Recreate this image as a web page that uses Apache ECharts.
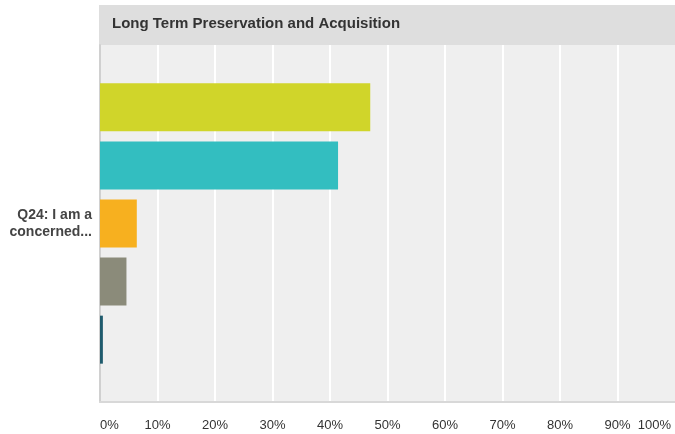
<!DOCTYPE html>
<html>
<head>
<meta charset="UTF-8">
<title>Long Term Preservation and Acquisition</title>
<script src="https://cdn.jsdelivr.net/npm/echarts@6/dist/echarts.min.js"></script>
<style>
  body { margin: 0; background: #fff; }
  #main { width: 675px; height: 434px; }
</style>
</head>
<body>
<div id="main"></div>
<script type="text/javascript">
    // data
    var categories = ['Q24: I am a\nconcerned...'];
    var answerNames = ['Strongly agree', 'Agree', 'Neither agree nor disagree', 'Disagree', 'Strongly disagree'];
    var answerValues = [47.0, 41.4, 6.4, 4.6, 0.5];
    var answerColors = ['#d0d52a', '#33bec0', '#f7b01f', '#8b8b7a', '#1f5b6d'];
    var xTicks = [0, 10, 20, 30, 40, 50, 60, 70, 80, 90, 100];

    var chart = echarts.init(document.getElementById('main'));

    var series = [];
    for (var i = 0; i < answerValues.length; i++) {
        series.push({
            name: answerNames[i],
            type: 'bar',
            barWidth: 48,
            barGap: '21%',
            itemStyle: { color: answerColors[i] },
            data: [answerValues[i]]
        });
    }

    var option = {
        animation: false,
        textStyle: { fontFamily: 'Liberation Sans, Arial, sans-serif' },
        graphic: [
            {
                type: 'rect',
                shape: { x: 99, y: 5, width: 576, height: 40 },
                style: { fill: '#dedede' },
                z: -1
            },
            {
                type: 'text',
                left: 112,
                top: 16,
                style: {
                    text: 'Long Term Preservation and Acquisition',
                    font: 'bold 15px Liberation Sans, Arial, sans-serif',
                    fill: '#333333'
                }
            }
        ],
        grid: {
            left: 100, right: -3, top: 45, bottom: 32,
            show: true,
            backgroundColor: '#efefef',
            borderWidth: 0
        },
        xAxis: {
            type: 'value',
            min: 0, max: 100, interval: 10,
            axisLine: { show: true, lineStyle: { color: '#d8d8d8', width: 2 } },
            axisTick: { show: false },
            splitLine: { show: true, showMaxLine: false, lineStyle: { color: '#ffffff', width: 2 } },
            axisLabel: {
                margin: 17,
                color: '#333333',
                fontSize: 13,
                alignMinLabel: 'left',
                alignMaxLabel: 'right',
                formatter: function (v) {
                    if (xTicks.indexOf(v) < 0) return '';
                    return v === 100 ? '{m|' + v + '%}' : v + '%';
                },
                rich: { m: { fontSize: 13, color: '#333333', padding: [0, 4, 0, 0] } }
            }
        },
        yAxis: {
            type: 'category',
            data: categories,
            inverse: true,
            axisLine: { show: true, lineStyle: { color: '#d0d0d0', width: 2 } },
            axisTick: { show: false },
            axisLabel: {
                margin: 8,
                color: '#444444',
                fontSize: 14,
                fontWeight: 'bold',
                lineHeight: 17
            }
        },
        series: series
    };
    chart.setOption(option);
</script>
</body>
</html>
